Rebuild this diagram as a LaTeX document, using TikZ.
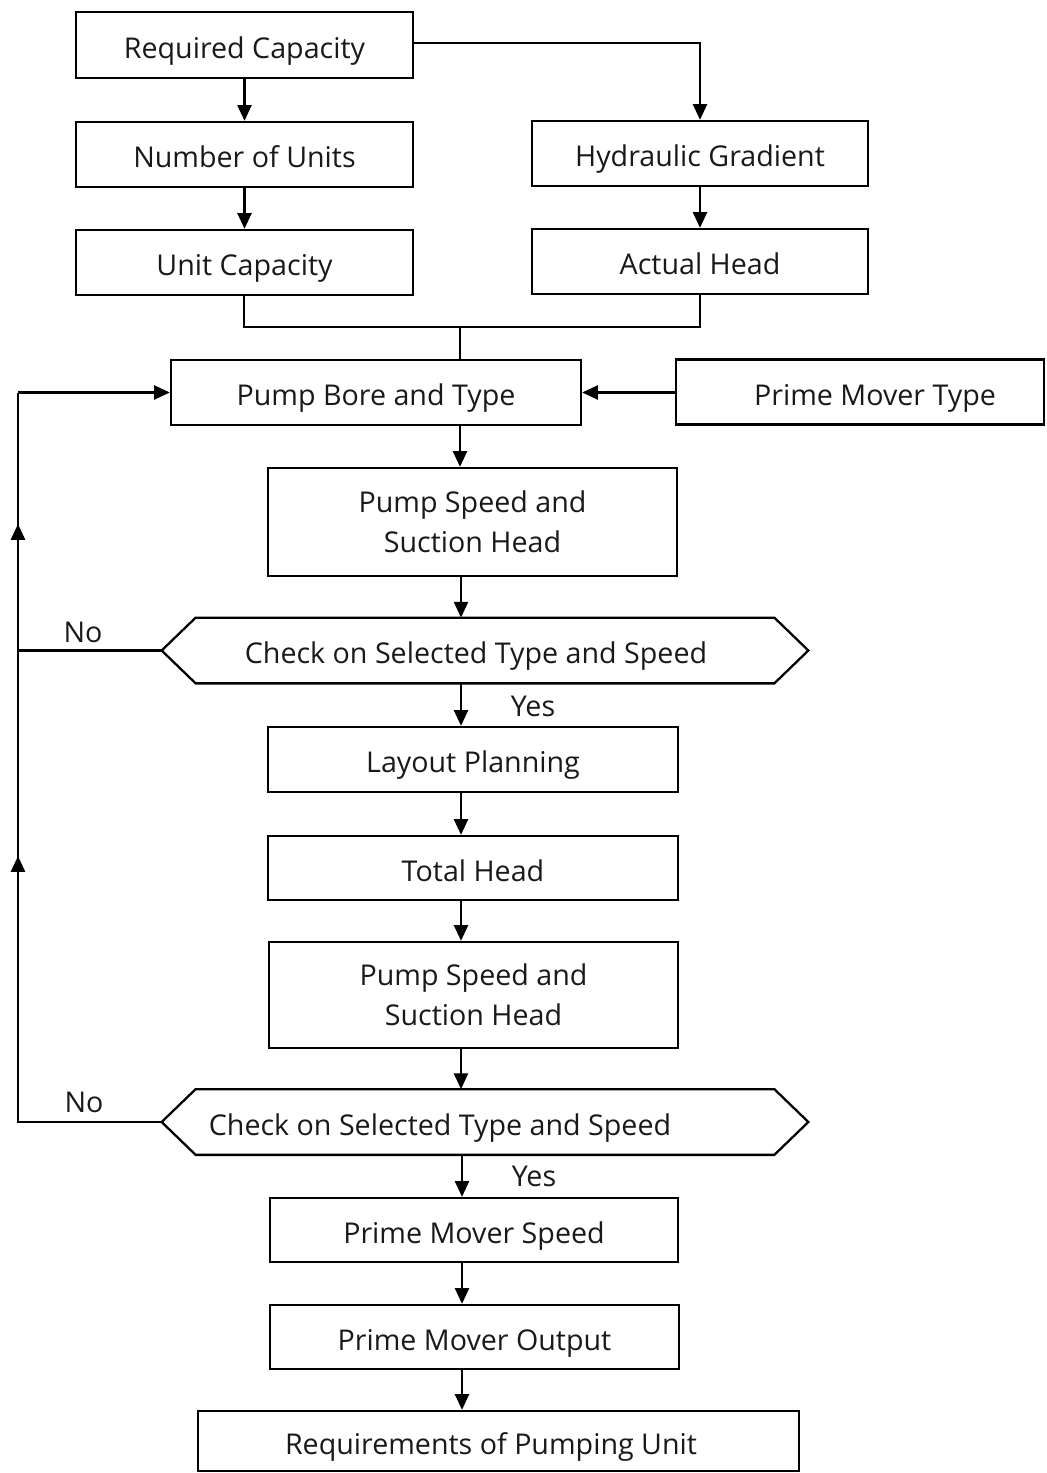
\documentclass[tikz,border=0pt]{standalone}
\usepackage{fontspec}
\setmainfont{Open Sans}
\usetikzlibrary{arrows.meta}
\begin{document}
\begin{tikzpicture}[x=0.02cm,y=-0.02cm,
  txt/.style={font=\fontsize{16.3}{22.5}\selectfont, text=black!90},
  one/.style={text height=15pt, text depth=0pt},
  box/.style={txt, draw, line width=1.3pt, inner sep=0pt, align=center},
  hexbox/.style={inner sep=0pt, minimum width=646*0.02cm, minimum height=65*0.02cm},
  link/.style={line width=1.3pt},
  arr/.style={line width=1.3pt, -{Triangle[length=9pt,width=8pt]}},
  lbl/.style={txt}
]
\useasboundingbox (0,0) rectangle (1046,1473);

% upper boxes
\node[box, one, minimum width=337*0.02cm, minimum height=66*0.02cm] (rc) at (244.5,45) {Required Capacity};
\node[box, one, minimum width=337*0.02cm, minimum height=65*0.02cm] (nu) at (244.5,154.5) {Number of Units};
\node[box, one, minimum width=337*0.02cm, minimum height=65*0.02cm] (uc) at (244.5,262.5) {Unit Capacity};
\node[box, one, minimum width=336*0.02cm, minimum height=65*0.02cm] (hg) at (700,153.5) {Hydraulic Gradient};
\node[box, one, minimum width=336*0.02cm, minimum height=65*0.02cm] (ah) at (700,261.5) {Actual Head};

% pump selection
\node[box, one, minimum width=410*0.02cm, minimum height=65*0.02cm] (pbt) at (376,392.5) {Pump Bore and Type};
\node[box, one, minimum width=368*0.02cm, minimum height=65*0.02cm] (pmt) at (860,392) {\hspace*{0.6cm}Prime Mover Type};
\node[box, minimum width=409*0.02cm, minimum height=108*0.02cm] (ps1) at (472.5,522) {Pump Speed and\\Suction Head};

% first check
\node[hexbox] (chk1) at (485,650.5) {};
\node[txt, one] (chk1t) at (476,650.5) {Check on Selected Type and Speed};
\draw[link] (chk1.west) -- ([xshift=34*0.02cm]chk1.north west) -- ([xshift=-34*0.02cm]chk1.north east)
  -- (chk1.east) -- ([xshift=-34*0.02cm]chk1.south east) -- ([xshift=34*0.02cm]chk1.south west) -- cycle;

\node[box, one, minimum width=410*0.02cm, minimum height=65*0.02cm] (lp) at (473,759.5) {Layout Planning};
\node[box, one, minimum width=410*0.02cm, minimum height=64*0.02cm] (th) at (473,868) {Total Head};
\node[box, minimum width=409*0.02cm, minimum height=106*0.02cm] (ps2) at (473.5,995) {Pump Speed and\\Suction Head};

% second check
\node[hexbox] (chk2) at (485,1122) {};
\node[txt, one] (chk2t) at (440,1122) {Check on Selected Type and Speed};
\draw[link] (chk2.west) -- ([xshift=34*0.02cm]chk2.north west) -- ([xshift=-34*0.02cm]chk2.north east)
  -- (chk2.east) -- ([xshift=-34*0.02cm]chk2.south east) -- ([xshift=34*0.02cm]chk2.south west) -- cycle;

\node[box, one, minimum width=408*0.02cm, minimum height=64*0.02cm] (pms) at (474,1230) {Prime Mover Speed};
\node[box, one, minimum width=409*0.02cm, minimum height=64*0.02cm] (pmo) at (474.5,1337) {Prime Mover Output};
\node[box, one, minimum width=601*0.02cm, minimum height=60*0.02cm] (req) at (498.5,1441) {Requirements of Pumping Unit\hspace*{0.3cm}};

% junction points
\coordinate (rcturn) at (700,43);
\coordinate (jl) at (244,327);
\coordinate (jr) at (700,327);
\coordinate (jm) at (460,327);
\coordinate (lb) at (18,1122);
\coordinate (lm) at (18,650.5);
\coordinate (lt) at (18,392.5);

% connectors, left column
\draw[arr] (rc.south) -- (nu.north);
\draw[arr] (nu.south) -- (uc.north);
% right column
\draw[arr] (rc.east |- rcturn) -- (rcturn) -- (hg.north);
\draw[arr] (hg.south) -- (ah.north);
% merge into pump bore
\draw[link] (uc.south -| jl) -- (jl) -- (jr) -- (ah.south -| jr);
\draw[link] (jm) -- (jm |- pbt.north);
\draw[arr] (pmt.west |- pbt.east) -- (pbt.east);

% main spine
\draw[arr] (pbt.south -| jm) -- (jm |- ps1.north);
\draw[arr] (ps1.south -| 461,0) -- (461,0 |- chk1.north);
\draw[arr] (chk1.south -| 461,0) -- (461,0 |- lp.north);
\draw[arr] (lp.south -| 461,0) -- (461,0 |- th.north);
\draw[arr] (th.south -| 461,0) -- (461,0 |- ps2.north);
\draw[arr] (ps2.south -| 461,0) -- (461,0 |- chk2.north);
\draw[arr] (chk2.south -| 462,0) -- (462,0 |- pms.north);
\draw[arr] (pms.south -| 462,0) -- (462,0 |- pmo.north);
\draw[arr] (pmo.south -| 462,0) -- (462,0 |- req.north);

% feedback loop
\draw[link] (chk2.west) -- (lb) -- (lt);
\draw[link] (chk1.west) -- (lm);
\draw[arr] (lt) -- (pbt.west);
\draw[arr] (18,560) -- (18,524);
\draw[arr] (18,890) -- (18,856);

% branch labels
\node[lbl] (no1) at (83,632) {No};
\node[lbl] (no2) at (84,1102) {No};
\node[lbl] (yes1) at (533,706) {Yes};
\node[lbl] (yes2) at (534,1176) {Yes};
\end{tikzpicture}
\end{document}
